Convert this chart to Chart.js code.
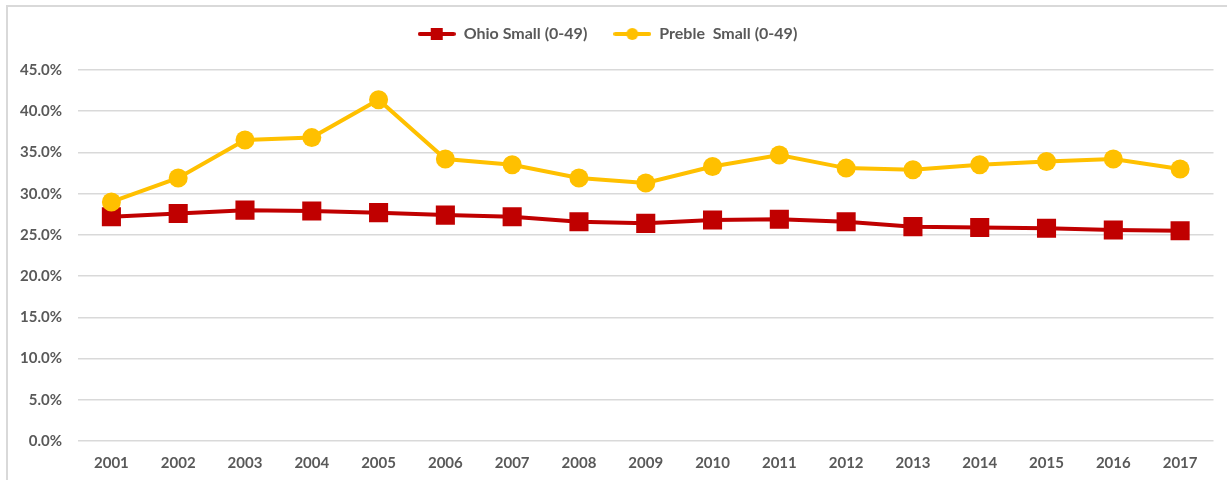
<!DOCTYPE html>
<html>
<head>
<meta charset="utf-8">
<script src="https://cdn.jsdelivr.net/npm/chart.js@4/dist/chart.umd.min.js"></script>
<style>
  html, body { margin: 0; padding: 0; background: #fff; }
  #wrap { position: relative; width: 1227px; height: 480px; overflow: hidden; }
  #frame { position: absolute; left: 6px; top: 5px; width: 1300px; height: 600px; border: 2px solid #d9d9d9; box-sizing: border-box; }
  #c { position: absolute; left: 0; top: 0; }
</style>
</head>
<body>
<div id="wrap">
  <div id="frame"></div>
  <canvas id="c" width="1227" height="480"></canvas>
</div>
<script>
const years = ["2001","2002","2003","2004","2005","2006","2007","2008","2009","2010","2011","2012","2013","2014","2015","2016","2017"];
const ohioSmall = [27.2, 27.6, 28.0, 27.9, 27.7, 27.4, 27.2, 26.6, 26.4, 26.8, 26.9, 26.6, 26.0, 25.9, 25.8, 25.6, 25.5];
const prebleSmall = [29.0, 31.9, 36.5, 36.8, 41.4, 34.2, 33.5, 31.9, 31.3, 33.3, 34.7, 33.1, 32.9, 33.5, 33.9, 34.2, 33.0];
const seriesNames = ["Ohio Small (0-49)", "Preble  Small (0-49)"];
const yTicks = [0, 5, 10, 15, 20, 25, 30, 35, 40, 45];

const RED = "#C00000";
const GOLD = "#FFC000";
const FONT = "Lato, 'Open Sans', sans-serif";

function legendIcon(color, shape) {
  const cv = document.createElement("canvas");
  cv.width = 38; cv.height = 14;
  const g = cv.getContext("2d");
  g.strokeStyle = color; g.lineWidth = 4; g.lineCap = "round";
  g.beginPath(); g.moveTo(2, 7); g.lineTo(36, 7); g.stroke();
  g.fillStyle = color;
  if (shape === "rect") { g.fillRect(13, 1, 12, 12); }
  else { g.beginPath(); g.arc(19, 7, 6, 0, Math.PI * 2); g.fill(); }
  return cv;
}
const icons = [legendIcon(RED, "rect"), legendIcon(GOLD, "circle")];

const legendSpace = {
  id: "legendSpace",
  afterInit(chart) {
    const lg = chart.legend;
    if (!lg) return;
    const orig = lg.fit;
    lg.fit = function () { orig.call(this); this.height += 18; };
  }
};

new Chart(document.getElementById("c"), {
  type: "line",
  data: {
    labels: years,
    datasets: [
      { label: seriesNames[0], data: ohioSmall, borderColor: RED, backgroundColor: RED,
        borderWidth: 4, pointStyle: "rect", pointRadius: 13.5, pointHoverRadius: 13.5,
        pointBackgroundColor: RED, pointBorderColor: RED, pointBorderWidth: 0, tension: 0, order: 2 },
      { label: seriesNames[1], data: prebleSmall, borderColor: GOLD, backgroundColor: GOLD,
        borderWidth: 4, pointStyle: "circle", pointRadius: 9.5, pointHoverRadius: 9.5,
        pointBackgroundColor: GOLD, pointBorderColor: GOLD, pointBorderWidth: 0, tension: 0, order: 1 }
    ]
  },
  plugins: [legendSpace],
  options: {
    responsive: false,
    animation: false,
    devicePixelRatio: 1,
    layout: { padding: { top: 0, right: 12, left: 0, bottom: 0 } },
    plugins: {
      tooltip: { enabled: false },
      legend: {
        position: "top",
        labels: {
          usePointStyle: true,
          pointStyleWidth: 38,
          padding: 26,
          color: "#595959",
          font: { family: FONT, size: 16, weight: "bold" },
          generateLabels(chart) {
            return chart.data.datasets.map((ds, i) => ({
              text: ds.label, pointStyle: icons[i], fillStyle: ds.borderColor,
              strokeStyle: ds.borderColor, lineWidth: 0, hidden: false, datasetIndex: i, fontColor: "#595959"
            }));
          }
        }
      }
    },
    scales: {
      x: {
        offset: true,
        grid: { display: false, drawTicks: false },
        border: { display: false },
        ticks: { color: "#595959", font: { family: FONT, size: 15, weight: "bold" }, padding: 13, maxRotation: 0 },
        afterFit(s) { s.height = 39; }
      },
      y: {
        min: 0, max: 45,
        grid: { color: "#d9d9d9", lineWidth: 1.5, drawTicks: false },
        border: { display: false },
        afterBuildTicks(s) { s.ticks = yTicks.map(v => ({ value: v })); },
        ticks: { color: "#595959", font: { family: FONT, size: 15, weight: "bold" }, padding: 16,
          callback: v => v.toFixed(1) + "%" },
        afterFit(s) { s.width = 78; }
      }
    }
  }
});
</script>
</body>
</html>
